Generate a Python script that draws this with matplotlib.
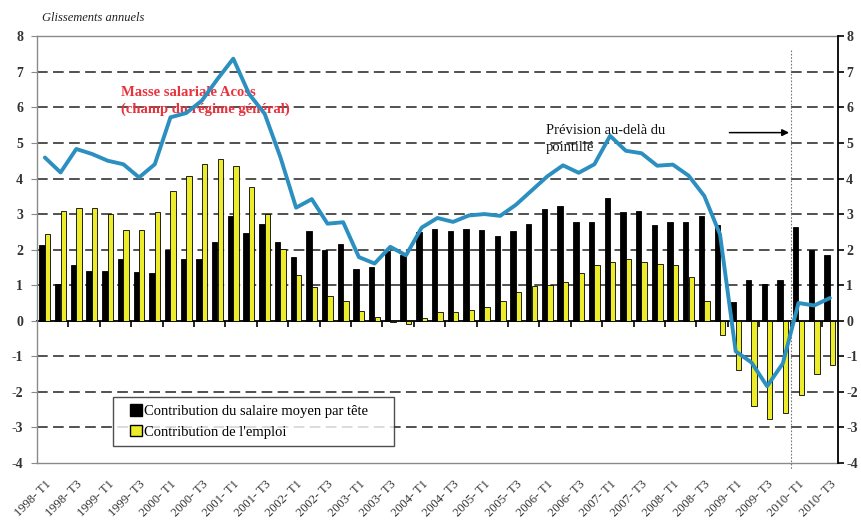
import matplotlib
matplotlib.use("Agg")
import matplotlib.pyplot as plt
import numpy as np
from matplotlib.patches import Patch, Rectangle
from matplotlib.legend_handler import HandlerPatch

plt.rcParams['font.family'] = ['Liberation Serif', 'DejaVu Serif']

years = list(range(1998, 2011))
quarters = [f"{y}- T{q}" for y in years for q in (1, 2, 3, 4)][:51]

salaire_moyen = [2.12, 1.04, 1.58, 1.41, 1.41, 1.75, 1.37, 1.33, 2.0, 1.75,
                 1.75, 2.22, 2.94, 2.48, 2.73, 2.22, 1.8, 2.52, 2.0, 2.17,
                 1.46, 1.5, 1.97, 1.85, 2.5, 2.59, 2.52, 2.59, 2.56, 2.38,
                 2.52, 2.73, 3.15, 3.24, 2.77, 2.77, 3.44, 3.07, 3.09, 2.68,
                 2.77, 2.77, 2.94, 2.68, 0.52, 1.14, 1.04, 1.16, 2.64, 2.0, 1.84]
emploi = [2.43, 3.1, 3.18, 3.18, 3.01, 2.56, 2.56, 3.07, 3.65, 4.08,
          4.41, 4.54, 4.34, 3.77, 3.01, 2.03, 1.28, 0.94, 0.69, 0.55,
          0.27, 0.12, -0.03, -0.09, 0.08, 0.25, 0.25, 0.3, 0.39, 0.55,
          0.8, 0.98, 1.0, 1.09, 1.35, 1.56, 1.66, 1.74, 1.65, 1.61,
          1.56, 1.23, 0.55, -0.41, -1.37, -2.4, -2.76, -2.59, -2.1, -1.51, -1.23]
masse_salariale = [4.59, 4.17, 4.83, 4.69, 4.50, 4.40, 4.03, 4.40, 5.72, 5.84,
                   6.19, 6.80, 7.37, 6.38, 5.82, 4.6, 3.18, 3.42, 2.73, 2.77,
                   1.79, 1.61, 2.08, 1.84, 2.62, 2.89, 2.78, 2.96, 3.0, 2.95,
                   3.26, 3.66, 4.06, 4.37, 4.16, 4.40, 5.2, 4.78, 4.71, 4.36,
                   4.39, 4.08, 3.51, 2.43, -0.86, -1.17, -1.84, -1.2, 0.5, 0.43, 0.64]
forecast_start = 48  # index of 2010- T1

x = np.arange(len(quarters))

fig = plt.figure(figsize=(8.61, 5.25), dpi=100)
ax = fig.add_axes([0.043, 0.118, 0.930, 0.813])

yellow = '#ecec2a'
bw = 0.34
ax.bar(x - 0.18, salaire_moyen, width=bw, color='black', edgecolor='black',
       linewidth=0.6, zorder=3)
ax.bar(x + 0.17, emploi, width=bw, color=yellow, edgecolor='black',
       linewidth=0.6, zorder=3)
ax.plot(x, masse_salariale, color='#2b8fc0', linewidth=2.8, zorder=5,
        solid_joinstyle='round', solid_capstyle='round')

ax.set_xlim(-0.5, len(quarters) - 0.5)
ax.set_ylim(-4, 8)

# dashed gridlines
for v in [7, 6, 5, 4, 3, 2, 1, -1, -2, -3]:
    ax.axhline(v, color='#222222', linewidth=1.1, linestyle=(0, (7, 3.5)), zorder=1)

# spines
for s in ['left', 'top', 'bottom']:
    ax.spines[s].set_color('#8a8a8a')
    ax.spines[s].set_linewidth(1.0)
ax.spines['right'].set_visible(False)

ax.set_yticks(range(-4, 9))
ax.set_yticklabels([str(v) for v in range(-4, 9)], fontsize=10, color='#333333',
                   fontweight='bold')
ax.tick_params(axis='y', direction='out', length=4, color='#8a8a8a', pad=6)

ax.set_xticks(x[::2])
ax.set_xticklabels(quarters[::2], rotation=45, ha='right', rotation_mode='anchor',
                   fontsize=9, color='#333333')
ax.tick_params(axis='x', length=0, pad=11)

# zero axis with category tick marks
sec = ax.secondary_xaxis(4 / 12)
sec.set_xticks(np.arange(1.5, len(quarters), 2))
sec.set_xticklabels([])
sec.tick_params(axis='x', direction='out', length=4, width=1.2, color='black')
sec.spines['bottom'].set_color('black')
sec.spines['bottom'].set_linewidth(1.3)

# right axis
axr = ax.twinx()
axr.set_ylim(-4, 8)
axr.set_yticks(range(-4, 9))
axr.set_yticklabels([str(v) for v in range(-4, 9)], fontsize=10, color='#333333',
                    fontweight='bold')
axr.tick_params(axis='y', direction='out', length=4, color='black', width=1.2, pad=2)
for s in ['left', 'top', 'bottom']:
    axr.spines[s].set_visible(False)
axr.spines['right'].set_color('black')
axr.spines['right'].set_linewidth(1.3)

# forecast dotted line
ax.plot([forecast_start - 0.5, forecast_start - 0.5], [7.6, -4.2], color='#777777',
        linewidth=0.8, linestyle=(0, (1.5, 1.5)), clip_on=False, zorder=2)

# annotations
ax.text(4.85, 6.6, "Masse salariale Acoss\n(champ du régime général)", color='#e8323c',
        fontsize=10.5, fontweight='bold', va='top', ha='left', linespacing=1.3, zorder=4)
ax.text(31.9, 5.52, "Prévision au-delà du\npointillé", color='#111111',
        fontsize=10.5, va='top', ha='left', linespacing=1.35, zorder=6)
ax.annotate("", xy=(47.4, 5.29), xytext=(43.6, 5.29),
            arrowprops=dict(arrowstyle='-|>', color='black', lw=1.1,
                            mutation_scale=10, shrinkA=0, shrinkB=0), zorder=6)

fig.text(0.049, 0.966, "Glissements annuels", fontsize=9, style='italic',
         color='#222222', va='center', ha='left')


def square_patch(legend, orig_handle, xdescent, ydescent, width, height, fontsize):
    side = height * 1.05
    return Rectangle((-xdescent + width - side, -ydescent - 0.03 * height), side, side)


handles = [Patch(facecolor='black', edgecolor='black'),
           Patch(facecolor=yellow, edgecolor='black')]
leg = ax.legend(handles, ["Contribution du salaire moyen par tête",
                          "Contribution de l'emploi"],
                loc='lower left', bbox_to_anchor=(0.095, 0.04, 0.351, 0.115),
                mode='expand', fontsize=10.5,
                frameon=True, fancybox=False, edgecolor='#222222',
                handlelength=1.45, handleheight=0.75, handletextpad=0.15,
                borderpad=0.5, labelspacing=0.5, borderaxespad=0,
                handler_map={Patch: HandlerPatch(patch_func=square_patch)})
leg.get_frame().set_linewidth(1.0)
leg.set_zorder(10)

fig.savefig("out.png", dpi=100)
